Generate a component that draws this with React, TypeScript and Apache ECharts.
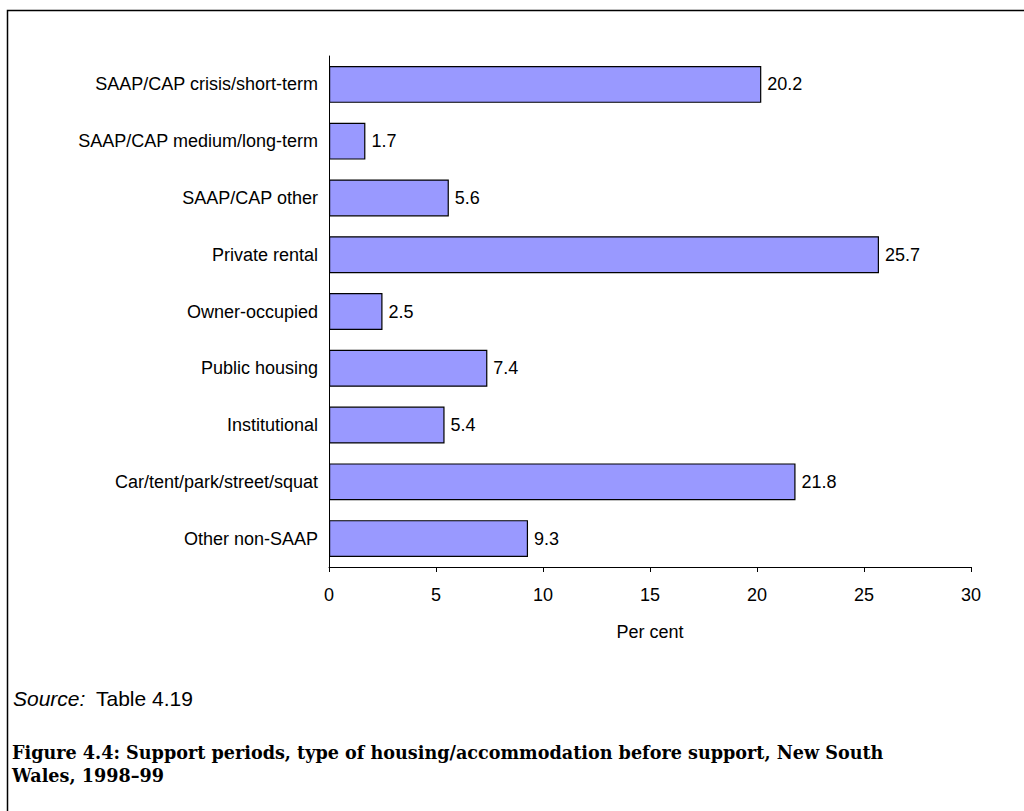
import React, { useEffect, useRef } from "react";
import * as echarts from "echarts";

const categories = [
  "SAAP/CAP crisis/short-term",
  "SAAP/CAP medium/long-term",
  "SAAP/CAP other",
  "Private rental",
  "Owner-occupied",
  "Public housing",
  "Institutional",
  "Car/tent/park/street/squat",
  "Other non-SAAP",
];
const values = [20.2, 1.7, 5.6, 25.7, 2.5, 7.4, 5.4, 21.8, 9.3];
const xTicks = [0, 5, 10, 15, 20, 25, 30];

const SANS = "'Liberation Sans', Arial, sans-serif";

export default function App() {
  const ref = useRef<HTMLDivElement>(null);
  useEffect(() => {
    const chart = echarts.init(ref.current!, null, { renderer: "svg" });
    chart.setOption({
      animation: false,
      backgroundColor: "#ffffff",
      grid: { left: 329, right: 53, top: 56, height: 511, containLabel: false },
      xAxis: {
        type: "value",
        min: xTicks[0],
        max: xTicks[xTicks.length - 1],
        interval: 5,
        axisLine: { show: true, lineStyle: { color: "#000", width: 1 } },
        axisTick: { show: true, length: 5, lineStyle: { color: "#000" } },
        splitLine: { show: false },
        axisLabel: { color: "#000", fontSize: 18, fontFamily: SANS, margin: 19 },
        name: "Per cent",
        nameLocation: "middle",
        nameGap: 56,
        nameTextStyle: { color: "#000", fontSize: 18, fontFamily: SANS },
      },
      yAxis: {
        type: "category",
        data: categories,
        inverse: true,
        axisLine: { show: true, lineStyle: { color: "#000", width: 1 } },
        axisTick: { show: false },
        axisLabel: { color: "#000", fontSize: 18, fontFamily: SANS, margin: 11 },
      },
      series: [
        {
          type: "bar",
          data: values,
          barCategoryGap: "35%",
          itemStyle: { color: "#9999FF", borderColor: "#000", borderWidth: 1.2 },
          label: {
            show: true,
            position: "right",
            distance: 6,
            color: "#000",
            fontSize: 18,
            fontFamily: SANS,
            formatter: (p: any) => p.value.toFixed(1),
          },
        },
      ],
      graphic: [
        {
          type: "rect",
          shape: { x: 7.5, y: 10.5, width: 1100, height: 900 },
          style: { fill: "none", stroke: "#000", lineWidth: 1.5 },
          silent: true,
        },
        {
          type: "text",
          x: 13,
          y: 698,
          style: {
            text: "Source:",
            fill: "#000",
            font: "italic 21px 'Liberation Sans', Arial",
            verticalAlign: "middle",
          },
        },
        {
          type: "text",
          x: 96,
          y: 698,
          style: {
            text: "Table 4.19",
            fill: "#000",
            font: "21px 'Liberation Sans', Arial",
            verticalAlign: "middle",
          },
        },
        {
          type: "text",
          x: 12,
          y: 752,
          style: {
            text: "Figure 4.4: Support periods, type of housing/accommodation before support, New South",
            fill: "#000",
            font: "bold 17.6px 'DejaVu Serif', serif",
            verticalAlign: "middle",
          },
        },
        {
          type: "text",
          x: 12,
          y: 775,
          style: {
            text: "Wales, 1998–99",
            fill: "#000",
            font: "bold 17.6px 'DejaVu Serif', serif",
            verticalAlign: "middle",
          },
        },
      ],
    });
    return () => chart.dispose();
  }, []);
  return (
    <div
      ref={ref}
      style={{ position: "fixed", left: 0, top: 0, width: 1024, height: 811 }}
    />
  );
}
